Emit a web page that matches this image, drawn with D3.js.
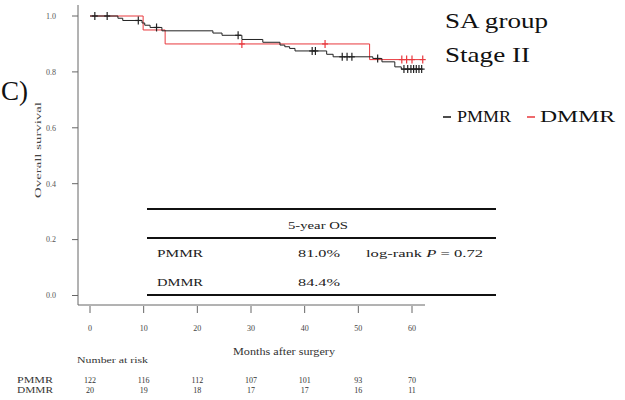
<!DOCTYPE html>
<html><head><meta charset="utf-8">
<script src="https://cdn.jsdelivr.net/npm/d3@7"></script>
<style>body{margin:0;background:#fff}svg{display:block;font-family:"Liberation Serif","Times New Roman",serif}</style>
</head><body><svg id="c" width="625" height="400"></svg>
<script>
// ---- data ----
const pmmrTimes = [0, 5.2, 6.1, 9.7, 10.2, 11.2, 13.4, 22.9, 24.6, 28.3, 32.2, 35.4, 36.3, 37.2, 38.2, 44.1, 45.3, 52.7, 54.4, 56.8, 58.0];
const pmmrSurv  = [1.0, 0.992, 0.984, 0.975, 0.967, 0.959, 0.947, 0.939, 0.931, 0.916, 0.906, 0.896, 0.890, 0.884, 0.875, 0.863, 0.854, 0.848, 0.836, 0.818, 0.810];
const pmmrCensor = [0.9, 3.2, 9.0, 12.4, 27.6, 41.4, 42.0, 47.0, 47.9, 48.8, 53.6, 58.5, 59.2, 59.8, 60.3, 60.8, 61.3, 61.8];
const pmmrEnd = 62;
const dmmrTimes = [0, 9.9, 14.0, 52.1];
const dmmrSurv  = [1.0, 0.95, 0.90, 0.844];
const dmmrCensor = [28.3, 43.8, 58.1, 59.0, 60.0, 62.0];
const dmmrEnd = 62;
const xTicks = [0, 10, 20, 30, 40, 50, 60];
const yTicks = [0, 0.2, 0.4, 0.6, 0.8, 1.0];
const riskGroups = ["PMMR", "DMMR"];
const pmmrRisk = [122, 116, 112, 107, 101, 93, 70];
const dmmrRisk = [20, 19, 18, 17, 17, 16, 11];
const osRows = [["PMMR", "81.0%"], ["DMMR", "84.4%"]];

const svg = d3.select("#c");
const x = d3.scaleLinear().domain([0, 60]).range([90, 412]);
const y = d3.scaleLinear().domain([0, 1]).range([295.5, 16]);

// axes
const axisCol = "#666";
svg.append("line").attr("x1", 78).attr("x2", 78).attr("y1", 5).attr("y2", 305).attr("stroke", axisCol);
svg.append("line").attr("x1", 78).attr("x2", 425).attr("y1", 305).attr("y2", 305).attr("stroke", axisCol);
yTicks.forEach(t => {
  svg.append("line").attr("x1", 72).attr("x2", 78).attr("y1", y(t)).attr("y2", y(t)).attr("stroke", axisCol);
  svg.append("text").attr("x", 56).attr("y", y(t)).attr("dy", "0.35em").attr("text-anchor", "end")
    .attr("font-size", 8).attr("fill", "#555").text(d3.format(".1f")(t));
});
xTicks.forEach(t => {
  svg.append("line").attr("x1", x(t)).attr("x2", x(t)).attr("y1", 306).attr("y2", 313).attr("stroke", axisCol);
  svg.append("text").attr("x", x(t)).attr("y", 331).attr("text-anchor", "middle")
    .attr("font-size", 8).attr("fill", "#444").text(t);
});
svg.append("text").attr("transform", "translate(41,150) rotate(-90)").attr("text-anchor", "middle")
  .attr("font-size", 9).attr("fill", "#444").attr("textLength", 96).attr("lengthAdjust", "spacingAndGlyphs")
  .text("Overall survival");
svg.append("text").attr("x", 233).attr("y", 355).attr("font-size", 10).attr("fill", "#333")
  .attr("textLength", 102).attr("lengthAdjust", "spacingAndGlyphs").text("Months after surgery");

// curves
function stepPts(times, surv, end) {
  const pts = [];
  times.forEach((t, i) => {
    if (i > 0) pts.push([t, surv[i - 1]]);
    pts.push([t, surv[i]]);
  });
  pts.push([end, surv[surv.length - 1]]);
  return pts;
}
function survAt(times, surv, t) {
  const i = d3.bisectRight(times, t) - 1;
  return surv[Math.max(0, i)];
}
const line = d3.line().x(d => x(d[0])).y(d => y(d[1]));
function drawCurve(times, surv, end, cens, col) {
  svg.append("path").attr("d", line(stepPts(times, surv, end))).attr("fill", "none")
    .attr("stroke", col).attr("stroke-width", 1);
  cens.forEach(c => {
    const cx = x(c), cy = y(survAt(times, surv, c));
    svg.append("line").attr("x1", cx).attr("x2", cx).attr("y1", cy - 4).attr("y2", cy + 4).attr("stroke", col).attr("stroke-width", 1.2);
    svg.append("line").attr("x1", cx - 3).attr("x2", cx + 3).attr("y1", cy).attr("y2", cy).attr("stroke", col).attr("stroke-width", 1.2);
  });
}
drawCurve(dmmrTimes, dmmrSurv, dmmrEnd, dmmrCensor, "#e8383d");
drawCurve(pmmrTimes, pmmrSurv, pmmrEnd, pmmrCensor, "#222");

// table
[209, 238, 295].forEach(yy => {
  svg.append("line").attr("x1", 147).attr("x2", 496).attr("y1", yy).attr("y2", yy).attr("stroke", "#111").attr("stroke-width", 2);
});
svg.append("text").attr("x", 288).attr("y", 229).attr("font-size", 11).attr("fill", "#222")
  .attr("textLength", 60).attr("lengthAdjust", "spacingAndGlyphs").text("5-year OS");
osRows.forEach((r, i) => {
  const yy = 257 + i * 29;
  svg.append("text").attr("x", 157).attr("y", yy).attr("font-size", 11).attr("fill", "#222")
    .attr("textLength", 46).attr("lengthAdjust", "spacingAndGlyphs").text(r[0]);
  svg.append("text").attr("x", 298).attr("y", yy).attr("font-size", 11).attr("fill", "#222")
    .attr("textLength", 42).attr("lengthAdjust", "spacingAndGlyphs").text(r[1]);
});
const lr = svg.append("text").attr("x", 366).attr("y", 257).attr("font-size", 11).attr("fill", "#222")
  .attr("textLength", 117).attr("lengthAdjust", "spacingAndGlyphs");
lr.append("tspan").text("log-rank  ");
lr.append("tspan").attr("font-style", "italic").text("P");
lr.append("tspan").text(" = 0.72");

// number at risk
svg.append("text").attr("x", 77).attr("y", 363).attr("font-size", 9).attr("fill", "#333")
  .attr("textLength", 71).attr("lengthAdjust", "spacingAndGlyphs").text("Number at risk");
[pmmrRisk, dmmrRisk].forEach((arr, gi) => {
  const yy = 383 + gi * 9.5;
  svg.append("text").attr("x", 17).attr("y", yy).attr("font-size", 8).attr("fill", "#333")
    .attr("textLength", 36).attr("lengthAdjust", "spacingAndGlyphs").text(riskGroups[gi]);
  arr.forEach((v, i) => {
    svg.append("text").attr("x", x(xTicks[i])).attr("y", yy).attr("text-anchor", "middle")
      .attr("font-size", 8).attr("fill", "#333").text(v);
  });
});

// titles and legend
svg.append("text").attr("x", 1).attr("y", 100).attr("font-size", 27).attr("fill", "#111").text("C)");
svg.append("text").attr("x", 445).attr("y", 28).attr("font-size", 21).attr("fill", "#111")
  .attr("textLength", 103).attr("lengthAdjust", "spacingAndGlyphs").text("SA group");
svg.append("text").attr("x", 445).attr("y", 62).attr("font-size", 21).attr("fill", "#111")
  .attr("textLength", 85).attr("lengthAdjust", "spacingAndGlyphs").text("Stage II");
svg.append("line").attr("x1", 443).attr("x2", 451).attr("y1", 117).attr("y2", 117).attr("stroke", "#111").attr("stroke-width", 1.5);
svg.append("text").attr("x", 457).attr("y", 122).attr("font-size", 17).attr("fill", "#111")
  .attr("textLength", 54).attr("lengthAdjust", "spacingAndGlyphs").text("PMMR");
svg.append("line").attr("x1", 527).attr("x2", 535).attr("y1", 117).attr("y2", 117).attr("stroke", "#e8383d").attr("stroke-width", 1.5);
svg.append("text").attr("x", 540).attr("y", 122).attr("font-size", 17).attr("fill", "#111")
  .attr("textLength", 75).attr("lengthAdjust", "spacingAndGlyphs").text("DMMR");
</script></body></html>
